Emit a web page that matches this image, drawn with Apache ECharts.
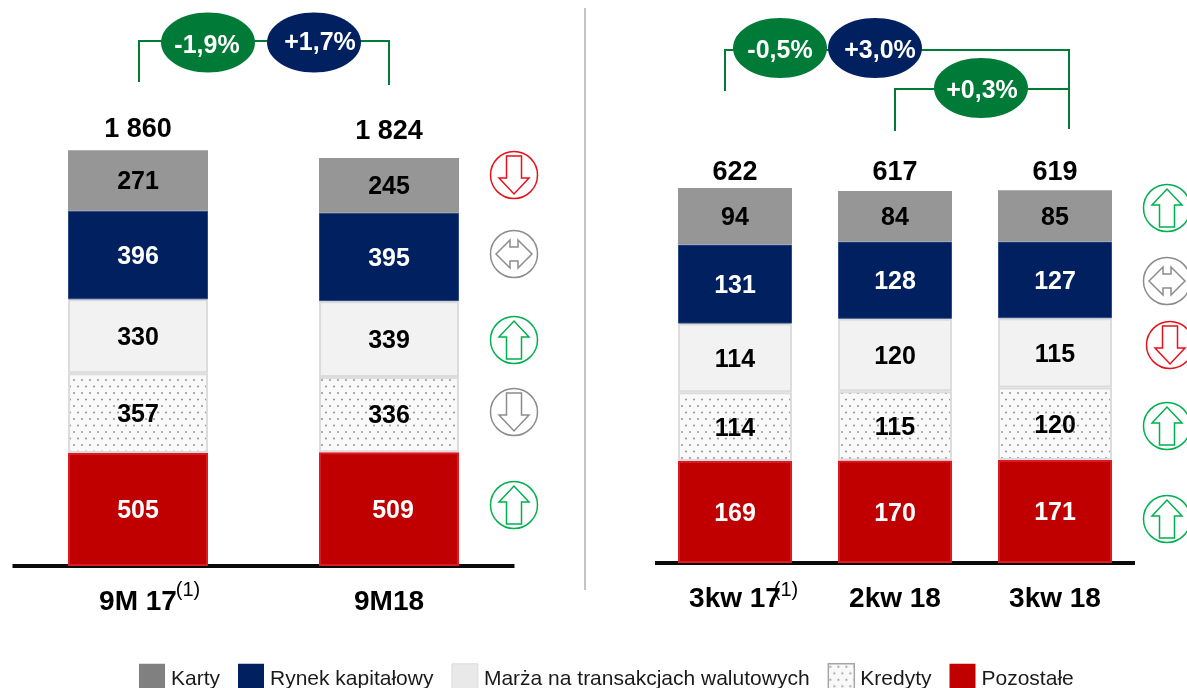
<!DOCTYPE html>
<html><head><meta charset="utf-8">
<style>html,body{margin:0;padding:0;background:#fff}#c{width:1187px;height:688px}</style>
<script src="https://cdn.jsdelivr.net/npm/echarts@6/dist/echarts.min.js"></script>
</head><body><div id="c"></div>
<script>
const categoriesA = ['9M 17', '9M18'];
const categoriesB = ['3kw 17', '2kw 18', '3kw 18'];
const seriesNames = ['Karty', 'Rynek kapitałowy', 'Marża na transakcjach walutowych', 'Kredyty', 'Pozostałe'];
const kartyA = [271, 245];
const rynekA = [396, 395];
const marzaA = [330, 339];
const kredytyA = [357, 336];
const pozostaleA = [505, 509];
const totalsA = [1860, 1824];
const kartyB = [94, 84, 85];
const rynekB = [131, 128, 127];
const marzaB = [114, 120, 115];
const kredytyB = [114, 115, 120];
const pozostaleB = [169, 170, 171];
const totalsB = [622, 617, 619];

const FONT = '"Liberation Sans", Arial, sans-serif';
const GREEN = '#007a37', NAVY = '#002060', RED = '#c00000';
const totalNudgeA = [0, -6];
const totalNudgeB = [5, 2, 3];

function dots() {
  const cv = document.createElement('canvas');
  cv.width = 8; cv.height = 13;
  const g = cv.getContext('2d');
  g.fillStyle = '#f9f9f9'; g.fillRect(0, 0, 8, 13);
  g.fillStyle = '#9a9a9a';
  [[2, 3], [6, 9.5]].forEach(p => { g.beginPath(); g.arc(p[0], p[1], 1.1, 0, Math.PI * 2); g.fill(); });
  return cv;
}
const dotFill = { image: dots(), repeat: 'repeat' };

const styles = {
  karty: { color: '#969696', borderColor: '#b5b5b5', borderWidth: 0 },
  rynek: { color: NAVY, borderColor: '#2b4a85', borderWidth: 1 },
  marza: { color: '#f2f2f2', borderColor: '#dcdcdc', borderWidth: 2 },
  kredyty: { color: dotFill, borderColor: '#dcdcdc', borderWidth: 2 },
  pozostale: { color: RED, borderColor: '#dd1a22', borderWidth: 2 }
};
function seg(name, data, style, light, idx, bw) {
  return {
    type: 'bar', name, data, stack: 'g' + idx, xAxisIndex: idx, yAxisIndex: idx, barWidth: bw,
    itemStyle: style, silent: true,
    label: { show: true, position: 'inside', offset: [0, 2], color: light ? '#fff' : '#000', fontFamily: FONT, fontWeight: 'bold', fontSize: 25 }
  };
}
function total(data, nudge, idx, fmt) {
  return {
    type: 'line', name: 'Suma', xAxisIndex: idx, yAxisIndex: idx, symbol: 'circle', symbolSize: 1,
    data: data.map((v, i) => ({ value: v, label: { offset: [0, nudge[i]] } })),
    showSymbol: true, lineStyle: { color: 'transparent', width: 0 }, itemStyle: { color: 'transparent' }, silent: true,
    label: { show: true, position: 'top', distance: 6, formatter: fmt, color: '#000', fontFamily: FONT, fontWeight: 'bold', fontSize: 27 }
  };
}
const spaced = p => String(p.value).replace(/\B(?=(\d{3})+$)/g, ' ');

function bracket(points) {
  return { type: 'polyline', z: 10, shape: { points }, style: { stroke: GREEN, lineWidth: 2, fill: null } };
}
function pill(cx, cy, color, text, tx, ty) {
  return [
    { type: 'ellipse', z: 11, shape: { cx, cy, rx: 47, ry: 30 }, style: { fill: color } },
    { type: 'text', z: 12, x: tx, y: ty, style: { text, fill: '#fff', font: 'bold 25px ' + FONT, align: 'center', verticalAlign: 'middle' } }
  ];
}
const arrowShapes = {
  up: [[-7.5, 19], [-7.5, -3], [-15, -3], [0, -19], [15, -3], [7.5, -3], [7.5, 19]],
  down: [[-7.5, -19], [-7.5, 3], [-15, 3], [0, 19], [15, 3], [7.5, 3], [7.5, -19]],
  flat: [[-18, 0], [-4, -14], [-4, -7], [4, -7], [4, -14], [18, 0], [4, 14], [4, 7], [-4, 7], [-4, 14]]
};
function trend(cx, cy, shape, color) {
  return [
    { type: 'circle', z: 10, shape: { cx, cy, r: 23.5 }, style: { fill: '#fff', stroke: color, lineWidth: 1.5 } },
    { type: 'polygon', z: 11, shape: { points: arrowShapes[shape].map(p => [p[0] + cx, p[1] + cy]) }, style: { fill: '#fff', stroke: color, lineWidth: 1.5 } }
  ];
}
const IC = { r: '#e8101c', g: '#00b050', s: '#8c8c8c' };

const graphic = [
  { type: 'line', z: 1, shape: { x1: 585, y1: 8, x2: 585, y2: 590 }, style: { stroke: '#c4c4c4', lineWidth: 2 } },
  bracket([[139, 82], [139, 41], [389, 41], [389, 85]]),
  ...pill(208, 42.5, GREEN, '-1,9%', 207, 46),
  ...pill(314, 42.5, NAVY, '+1,7%', 320, 43),
  bracket([[725, 91], [725, 50], [1069, 50], [1069, 129]]),
  bracket([[895, 131], [895, 89], [1069, 89]]),
  ...pill(780, 48, GREEN, '-0,5%', 780, 51),
  ...pill(875, 48, NAVY, '+3,0%', 880, 51),
  ...pill(981, 88, GREEN, '+0,3%', 982, 91),
  ...trend(514, 175, 'down', IC.r),
  ...trend(514, 254, 'flat', IC.s),
  ...trend(514, 340, 'up', IC.g),
  ...trend(514, 412, 'down', IC.s),
  ...trend(514, 505, 'up', IC.g),
  ...trend(1167, 208, 'up', IC.g),
  ...trend(1167, 281, 'flat', IC.s),
  ...trend(1170, 345, 'down', IC.r),
  ...trend(1167, 426, 'up', IC.g),
  ...trend(1167, 519, 'up', IC.g),
  { type: 'text', z: 12, x: 188, y: 590, style: { text: '(1)', fill: '#000', font: '20px ' + FONT, align: 'center', verticalAlign: 'middle' } },
  { type: 'text', z: 12, x: 786, y: 590, style: { text: '(1)', fill: '#000', font: '20px ' + FONT, align: 'center', verticalAlign: 'middle' } }
];

const xBase = {
  type: 'category', axisTick: { show: false },
  axisLine: { lineStyle: { color: '#0a0a0a', width: 4, cap: 'butt' } },
  axisLabel: { interval: 0, color: '#000', fontFamily: FONT, fontWeight: 'bold', fontSize: 28 }
};
const yBase = { type: 'value', min: 0, show: false, splitLine: { show: false } };

const seriesA = [
  seg(seriesNames[4], pozostaleA.map((v, i) => i === 1 ? { value: v, label: { offset: [4, 2] } } : v), styles.pozostale, true, 0, 140),
  seg(seriesNames[3], kredytyA, styles.kredyty, false, 0, 140),
  seg(seriesNames[2], marzaA, styles.marza, false, 0, 140),
  seg(seriesNames[1], rynekA, styles.rynek, true, 0, 140),
  seg(seriesNames[0], kartyA, styles.karty, false, 0, 140),
  total(totalsA, totalNudgeA, 0, spaced)
];
const seriesB = [
  seg(seriesNames[4], pozostaleB, styles.pozostale, true, 1, 114),
  seg(seriesNames[3], kredytyB, styles.kredyty, false, 1, 114),
  seg(seriesNames[2], marzaB, styles.marza, false, 1, 114),
  seg(seriesNames[1], rynekB, styles.rynek, true, 1, 114),
  seg(seriesNames[0], kartyB, styles.karty, false, 1, 114),
  total(totalsB, totalNudgeB, 1, spaced)
];

const option = {
  animation: false,
  backgroundColor: '#fff',
  grid: [
    { left: 12.5, width: 502, top: 118.6, height: 447.4 },
    { left: 655, width: 480, top: 80.6, height: 482.4 }
  ],
  xAxis: [
    { ...xBase, gridIndex: 0, data: categoriesA, axisLabel: { ...xBase.axisLabel, margin: 22 } },
    { ...xBase, gridIndex: 1, data: categoriesB, axisLabel: { ...xBase.axisLabel, margin: 22 } }
  ],
  yAxis: [
    { ...yBase, gridIndex: 0, max: 2000 },
    { ...yBase, gridIndex: 1, max: 800 }
  ],
  legend: {
    left: 139, top: 663, itemWidth: 26, itemHeight: 30, itemGap: 18, padding: 0, icon: 'rect',
    textStyle: { fontFamily: FONT, fontSize: 21, color: '#1a1a1a', padding: [0, 0, 0, 1] },
    data: [
      { name: seriesNames[0], itemStyle: { color: '#808080', borderWidth: 0 } },
      { name: seriesNames[1], itemStyle: { color: NAVY, borderWidth: 0 } },
      { name: seriesNames[2], itemStyle: { color: '#e9e9e9', borderColor: '#dcdcdc', borderWidth: 1 }, textStyle: { padding: [0, 2, 0, 1] } },
      { name: seriesNames[3], itemStyle: { color: dotFill, borderColor: '#a6a6a6', borderWidth: 1.5 }, textStyle: { padding: [0, 2, 0, 1] } },
      { name: seriesNames[4], itemStyle: { color: RED, borderWidth: 0 } }
    ]
  },
  series: [...seriesA, ...seriesB],
  graphic
};
echarts.init(document.getElementById('c'), null, { renderer: 'canvas' }).setOption(option);
</script></body></html>
